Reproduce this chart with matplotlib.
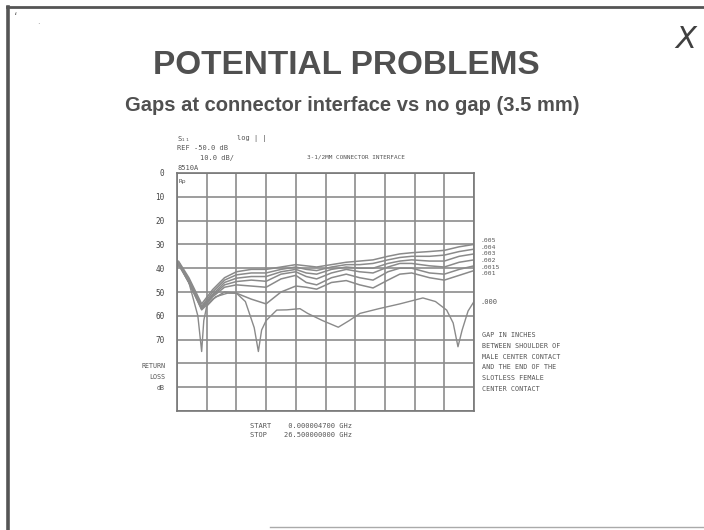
import numpy as np
import matplotlib.pyplot as plt

# --- data (freq GHz, return loss dB) ---
freq = [0.0, 0.13, 1.06, 2.2, 3.18, 4.24, 5.3, 6.63, 7.95, 9.28, 10.6, 11.53,
        12.46, 13.78, 15.1, 16.3, 17.49, 18.82, 19.88, 20.94, 22.53, 23.85, 25.18, 26.5]

gap_005 = [40, 37, 44, 55, 49, 44, 41.5, 40.5, 40.5, 39.5, 38.5, 39,
           39.5, 38.5, 37.5, 37, 36.5, 35, 34, 33.5, 33, 32.5, 31, 30]
gap_004 = [40, 37.5, 45, 56, 50, 45, 42.8, 42, 42, 40.5, 39.5, 40.5,
           41, 39.5, 38.5, 38.5, 38, 36.5, 35.5, 35, 35, 34.5, 33, 32]
gap_003 = [40, 37.5, 45, 56.5, 51, 46, 44.2, 43.5, 43.5, 41.5, 40.5, 42,
           42.5, 40.5, 39.5, 40, 40, 38, 37, 36.5, 37, 37, 35, 34]
gap_002 = [40, 38, 46, 57, 51.5, 47, 45.6, 45, 45.5, 42.5, 41.5, 43.5,
           44.5, 42, 40.5, 41.5, 42, 39.5, 38, 38, 39, 39.5, 37.5, 36.5]
gap_0015 = [40, 38, 46, 57, 52, 48, 47, 47.5, 48, 44.5, 43, 46,
            47, 44, 42.5, 44, 45, 41.5, 40, 40, 42, 42.5, 40.5, 39]
gap_001 = [40, 38.5, 46, 57.5, 53, 50, 50.5, 53, 55, 50, 47.5, 48,
           48.8, 46, 45.2, 47, 48.3, 45, 42.5, 42, 44, 45, 43, 41]

freq_000 = [0.0, 0.13, 1.06, 1.86, 2.2, 2.39, 2.65, 3.45, 4.5, 5.3, 6.1, 6.89,
            7.26, 7.55, 7.95, 8.9, 9.8, 10.97, 11.66, 12.98, 14.39, 15.37, 16.32,
            18.02, 19.88, 21.94, 23.06, 24.06, 24.64, 25.07, 25.44, 25.97, 26.5]
gap_000 = [40, 37.5, 46, 60, 75, 62, 56, 52, 50.5, 50.5, 54, 65,
           75, 66, 62, 57.6, 57.5, 57, 59, 62, 64.8, 62, 59,
           57, 55, 52.5, 54, 57.6, 63, 73, 66, 58, 54]

series = [gap_005, gap_004, gap_003, gap_002, gap_0015, gap_001]
series_labels = ['.005', '.004', '.003', '.002', '.0015', '.001']
label_y = [28.4, 31.2, 34.0, 36.8, 39.6, 42.4]

ytick_vals = [0, 10, 20, 30, 40, 50, 60, 70, 80, 90, 100]
ytick_text = ['0', '10', '20', '30', '40', '50', '60', '70', '', '', '']

W, H = 704, 530
def fx(px):
    return px / W
def fy(py):
    return 1 - py / H

fig = plt.figure(figsize=(7.04, 5.30), dpi=100)
fig.patch.set_facecolor('white')

# slide frame (left and top edges dark, bottom faint)
fig.add_artist(plt.Line2D([fx(8), fx(8)], [fy(7), fy(530)], transform=fig.transFigure,
                          color='#555555', linewidth=2.6))
fig.add_artist(plt.Line2D([fx(7), fx(704)], [fy(7), fy(7)], transform=fig.transFigure,
                          color='#555555', linewidth=2.0))
fig.add_artist(plt.Line2D([fx(270), fx(704)], [fy(527), fy(527)], transform=fig.transFigure,
                          color='#aaaaaa', linewidth=1.0))

fig.text(0.492, fy(66), 'POTENTIAL PROBLEMS', ha='center', va='center',
         fontsize=24, fontweight='bold', color='#505050', family='Liberation Sans')
fig.text(0.5, fy(105), 'Gaps at connector interface vs no gap (3.5 mm)',
         ha='center', va='center', fontsize=14.5, fontweight='bold',
         color='#505050', family='Liberation Sans')
fig.text(fx(686), fy(40), 'X', ha='center', va='center', fontsize=22,
         style='italic', color='#404040', family='DejaVu Sans', fontweight='light')
fig.text(fx(16), fy(17), '\u02bb', fontsize=8, color='#777777', ha='center', va='center')
fig.text(fx(38), fy(22), '.', fontsize=6, color='#888888', ha='center', va='center')

# analyser plot
ax = fig.add_axes([fx(177), fy(411), fx(474) - fx(177), fy(173) - fy(411)])
for s in series:
    ax.plot(freq, s, color='#8a8a8a', linewidth=1.1)
ax.plot(freq_000, gap_000, color='#8a8a8a', linewidth=1.0)

ax.set_xlim(0, 26.5)
ax.set_ylim(100, 0)
ax.set_xticks(np.linspace(0, 26.5, 11))
ax.set_xticklabels([])
ax.set_yticks(ytick_vals)
ax.set_yticklabels(ytick_text, fontsize=5.5, family='DejaVu Sans Mono', color='#444444')
ax.tick_params(length=0, pad=9)
ax.grid(True, color='#8c8c8c', linewidth=1.2)
for sp in ax.spines.values():
    sp.set_color('#777777')
    sp.set_linewidth(1.2)

for lab, yv in zip(series_labels, label_y):
    ax.text(27.1, yv, lab, fontsize=4.6, va='center', ha='left',
            family='DejaVu Sans Mono', color='#555555', clip_on=False)
ax.text(27.1, 54, '.000', fontsize=5, va='center', ha='left',
        family='DejaVu Sans Mono', color='#555555', clip_on=False)

mono = dict(family='DejaVu Sans Mono', color='#555555')
fig.text(fx(177), fy(139), 'S\u2081\u2081', fontsize=5, va='center', **mono)
fig.text(fx(237), fy(139), 'log | |', fontsize=5, va='center', **mono)
fig.text(fx(177), fy(148), 'REF -50.0 dB', fontsize=5, va='center', **mono)
fig.text(fx(200), fy(158), '10.0 dB/', fontsize=5, va='center', **mono)
fig.text(fx(307), fy(157), '3-1/2MM CONNECTOR INTERFACE', fontsize=4.3, va='center', **mono)
fig.text(fx(177), fy(168), '8510A', fontsize=5, va='center', **mono)
fig.text(fx(179), fy(182), 'Rp', fontsize=4.5, va='center', **mono)

fig.text(fx(165), fy(377), 'RETURN\nLOSS\ndB', fontsize=4.8, ha='right',
         va='center', linespacing=1.9, **mono)

fig.text(fx(482), fy(362), 'GAP IN INCHES\nBETWEEN SHOULDER OF\nMALE CENTER CONTACT\n'
         'AND THE END OF THE\nSLOTLESS FEMALE\nCENTER CONTACT',
         fontsize=4.9, ha='left', va='center', linespacing=1.95, **mono)

fig.text(fx(250), fy(426), 'START    0.000004700 GHz', fontsize=5, va='center', **mono)
fig.text(fx(250), fy(435), 'STOP    26.500000000 GHz', fontsize=5, va='center', **mono)

fig.savefig('out.png', dpi=100, facecolor='white')
